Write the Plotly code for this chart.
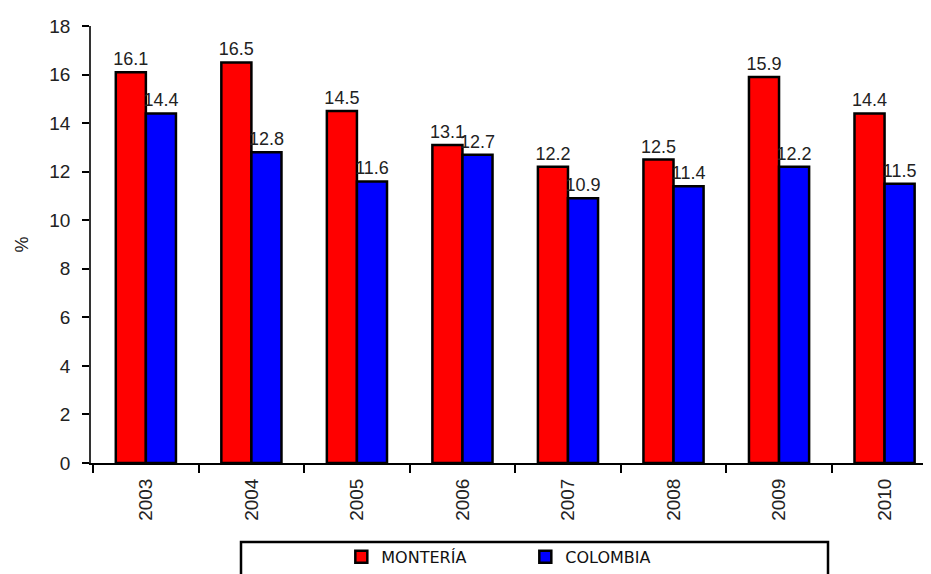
import plotly.graph_objects as go

years = ["2003", "2004", "2005", "2006", "2007", "2008", "2009", "2010"]
monteria = [16.1, 16.5, 14.5, 13.1, 12.2, 12.5, 15.9, 14.4]
colombia = [14.4, 12.8, 11.6, 12.7, 10.9, 11.4, 12.2, 11.5]

FONT = "Liberation Sans"
label_font = dict(family=FONT, size=18, color="#222")

fig = go.Figure()
fig.add_trace(go.Bar(
    x=years, y=monteria, name="MONTERÍA",
    marker=dict(color="#ff0000", line=dict(color="black", width=2.5)),
    text=[f"{v:.1f}" for v in monteria], textposition="outside",
    textfont=label_font, cliponaxis=False, constraintext="none",
))
fig.add_trace(go.Bar(
    x=years, y=colombia, name="COLOMBIA",
    marker=dict(color="#0000ff", line=dict(color="black", width=2.5)),
    text=[f"{v:.1f}" for v in colombia], textposition="outside",
    textfont=label_font, cliponaxis=False, constraintext="none",
))

fig.update_layout(
    width=931, height=574,
    margin=dict(l=83, r=8, t=13, b=119),
    paper_bgcolor="white", plot_bgcolor="white",
    barmode="group", bargap=0.43, bargroupgap=0,
    font=dict(family=FONT, color="#222"),
    xaxis=dict(
        type="category", range=[-0.52, 7.44],
        tickson="boundaries", ticks="outside", ticklen=8, tickwidth=2, tickcolor="black",
        tickangle=-90, tickfont=dict(family=FONT, size=19, color="#222"),
        ticklabelstandoff=6,
        showline=True, linecolor="black", linewidth=2, showgrid=False,
    ),
    yaxis=dict(
        range=[0, 18], dtick=2, ticks="outside", ticklen=7, tickwidth=2, tickcolor="black",
        tickfont=dict(family=FONT, size=19, color="#222"),
        ticklabelstandoff=8,
        showline=True, linecolor="#333", linewidth=1.5, showgrid=False, zeroline=False,
        title=dict(text="%", font=dict(family=FONT, size=18, color="#222"), standoff=16),
    ),
    showlegend=True,
    legend=dict(
        orientation="h", x=0.298, y=-0.215, xanchor="left", yanchor="middle",
        font=dict(family="DejaVu Sans", size=16, color="#111"),
        entrywidth=139, bgcolor="rgba(0,0,0,0)",
    ),
    shapes=[dict(
        type="rect", xref="paper", yref="paper",
        x0=(241 - 91) / 840, x1=(828 - 91) / 840,
        y0=(463 - 600) / 442, y1=(463 - 543) / 442,
        line=dict(color="black", width=2.5), fillcolor="rgba(0,0,0,0)", layer="below",
    )],
)

fig.write_html("out.html")
